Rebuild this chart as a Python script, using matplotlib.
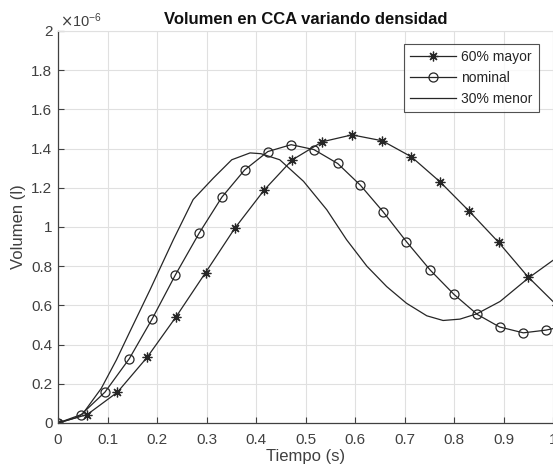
import matplotlib
matplotlib.use("Agg")
import matplotlib.pyplot as plt
from matplotlib.ticker import FuncFormatter

# Values in units of 1e-6 l
t_mayor = [0, 0.059, 0.12, 0.18, 0.238, 0.298, 0.357, 0.417, 0.473, 0.534, 0.594,
           0.655, 0.714, 0.772, 0.831, 0.890, 0.949, 1.008]
v_mayor = [0, 0.043, 0.157, 0.335, 0.54, 0.767, 0.993, 1.19, 1.342, 1.435, 1.47,
           1.44, 1.358, 1.23, 1.08, 0.922, 0.747, 0.60]

t_nominal = [0, 0.047, 0.095, 0.144, 0.19, 0.237, 0.285, 0.331, 0.377, 0.424, 0.471,
             0.517, 0.565, 0.611, 0.657, 0.704, 0.752, 0.80, 0.847, 0.892, 0.94, 0.986, 1.033]
v_nominal = [0, 0.043, 0.158, 0.328, 0.53, 0.755, 0.968, 1.152, 1.291, 1.385, 1.42,
             1.395, 1.324, 1.213, 1.077, 0.925, 0.78, 0.656, 0.554, 0.49, 0.46, 0.474, 0.50]

t_menor = [0, 0.04, 0.05, 0.0875, 0.118, 0.145, 0.186, 0.233, 0.273, 0.314, 0.351,
           0.388, 0.41, 0.448, 0.496, 0.543, 0.583, 0.624, 0.664, 0.704, 0.745, 0.778,
           0.812, 0.846, 0.893, 0.95, 1.0]
v_menor = [0, 0.03, 0.047, 0.177, 0.322, 0.465, 0.68, 0.935, 1.14, 1.25, 1.343,
           1.378, 1.374, 1.343, 1.233, 1.088, 0.935, 0.80, 0.696, 0.611, 0.547, 0.523,
           0.53, 0.557, 0.62, 0.739, 0.83]

labels = ["60% mayor", "nominal", "30% menor"]
title = "Volumen en CCA variando densidad"
xlabel = "Tiempo (s)"
ylabel = "Volumen (l)"
xticks = [0, 0.1, 0.2, 0.3, 0.4, 0.5, 0.6, 0.7, 0.8, 0.9, 1]
yticks = [0, 0.2, 0.4, 0.6, 0.8, 1, 1.2, 1.4, 1.6, 1.8, 2]

plt.rcParams['font.family'] = ['Liberation Sans', 'DejaVu Sans']
fig = plt.figure(figsize=(5.53, 4.74), dpi=100)
fig.patch.set_facecolor('white')
W, H = 553, 474
ax = fig.add_axes([58 / W, (H - 423) / H, 495 / W, 392 / H])

lc = '#262626'
ax.plot(t_mayor, v_mayor, color=lc, lw=0.9, marker=(8, 2, 0), ms=7, mew=0.9,
        label=labels[0])
ax.plot(t_nominal, v_nominal, color=lc, lw=0.9, marker='o', ms=6.5, mfc='none',
        mew=0.9, label=labels[1])
ax.plot(t_menor, v_menor, color=lc, lw=0.9, label=labels[2])

ax.set_xlim(0, 1)
ax.set_ylim(0, 2)
ax.set_xticks(xticks)
ax.set_yticks(yticks)
fmt = FuncFormatter(lambda v, p: ('%g' % round(v, 3)))
ax.xaxis.set_major_formatter(fmt)
ax.yaxis.set_major_formatter(fmt)
ax.grid(True, color='#e0e0e0', lw=0.8)
ax.set_axisbelow(True)
ax.tick_params(direction='in', length=4, width=0.8, colors='#404040',
               labelsize=11, top=False, right=False)
ax.tick_params(axis='x', pad=7)
ax.tick_params(axis='y', pad=4)
for s in ['left', 'bottom']:
    ax.spines[s].set_color('#404040')
    ax.spines[s].set_linewidth(0.9)
for s in ['top', 'right']:
    ax.spines[s].set_color('#e0e0e0')
    ax.spines[s].set_linewidth(0.8)

ax.set_title(title, fontsize=12, fontweight='bold', color='#111111', pad=5)
ax.set_xlabel(xlabel, fontsize=12, color='#404040', labelpad=2)
ax.set_ylabel(ylabel, fontsize=12, color='#404040', labelpad=4)
ax.text(0.005, 1.003, r'$\times\mathregular{10^{-6}}$', transform=ax.transAxes,
        fontsize=10.5, color='#404040', ha='left', va='bottom')

leg = ax.legend(loc='upper right', bbox_to_anchor=((539 - 58) / 495, (423 - 44) / 392),
                fontsize=10, frameon=True, fancybox=False, edgecolor='#262626',
                handlelength=3.3, handletextpad=0.4, borderpad=0.45,
                labelspacing=0.5, borderaxespad=0)
leg.get_frame().set_linewidth(0.8)
for txt in leg.get_texts():
    txt.set_color('#262626')

fig.savefig('out.png', dpi=100, facecolor='white')
